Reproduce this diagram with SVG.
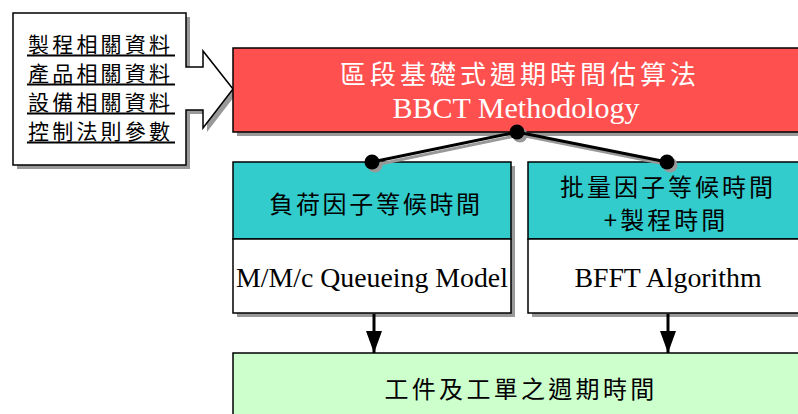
<svg xmlns="http://www.w3.org/2000/svg" width="798" height="414" viewBox="0 0 798 414">
<style>
.sh{fill:#999999;stroke:none}
.bx{stroke:#000;stroke-width:1.5}
.cjk{font-family:"Noto Sans CJK TC","Noto Sans CJK SC",sans-serif}
.rom{font-family:"Liberation Serif","Times New Roman",serif}
.conn{stroke:#000;stroke-width:3;fill:none}
.connsh{stroke:#999;stroke-width:3;fill:none}
</style>
<defs>
<marker id="ah" markerWidth="22" markerHeight="16" refX="22" refY="8" orient="auto" markerUnits="userSpaceOnUse" viewBox="0 0 22 16">
<path d="M0,0 L22,8 L0,16 Z" fill="#000"/>
</marker>
</defs>
<rect width="798" height="414" fill="#fff"/>

<g id="inputs">
<path class="sh" d="M17,17 H190 V71 H207 V55 L237,93 L207,132 V114 H190 V169 H17 Z"/>
<path class="bx" fill="#fff" d="M13,13 H186 V67 H203 V51 L233,89 L203,128 V110 H186 V165 H13 Z"/>
<g class="cjk" font-size="21" letter-spacing="3.2" fill="#000">
<text x="28" y="52">製程相關資料</text>
<text x="28" y="81">產品相關資料</text>
<text x="28" y="110">設備相關資料</text>
<text x="28" y="139">控制法則參數</text>
</g>
<g stroke="#000" stroke-width="2">
<line x1="27" y1="55.5" x2="175" y2="55.5"/>
<line x1="27" y1="84.5" x2="175" y2="84.5"/>
<line x1="27" y1="113.5" x2="175" y2="113.5"/>
<line x1="27" y1="142.5" x2="175" y2="142.5"/>
</g>
</g>

<g id="bbct">
<rect class="sh" x="237" y="52" width="570" height="84"/>
<rect class="bx" x="233" y="48" width="570" height="84" fill="#FF5050"/>
<text class="cjk" x="520" y="84" font-size="26" letter-spacing="4" fill="#fff" text-anchor="middle">區段基礎式週期時間估算法</text>
<text class="rom" x="516" y="118" font-size="30" fill="#fff" text-anchor="middle">BBCT Methodology</text>
</g>

<g id="queue">
<rect class="sh" x="237" y="166" width="278" height="151"/>
<rect class="bx" x="233" y="162" width="278" height="77" fill="#33CCCC"/>
<rect class="bx" x="233" y="239" width="278" height="74" fill="#fff"/>
<text class="cjk" x="376" y="213" font-size="24" letter-spacing="2.7" fill="#000" text-anchor="middle">負荷因子等候時間</text>
<text class="rom" x="372" y="287" font-size="27.8" fill="#000" text-anchor="middle">M/M/c Queueing Model</text>
</g>

<g id="bfft">
<rect class="sh" x="532" y="166" width="290" height="151"/>
<rect class="bx" x="528" y="162" width="290" height="77" fill="#33CCCC"/>
<rect class="bx" x="528" y="239" width="290" height="74" fill="#fff"/>
<text class="cjk" x="668" y="196" font-size="24" letter-spacing="3" fill="#000" text-anchor="middle">批量因子等候時間</text>
<text class="cjk" x="666" y="229" font-size="24" letter-spacing="3" fill="#000" text-anchor="middle">+製程時間</text>
<text class="rom" x="668" y="287" font-size="27.8" fill="#000" text-anchor="middle">BFFT Algorithm</text>
</g>

<g id="cycletime">
<rect class="bx" x="233" y="353" width="590" height="80" fill="#CCFFCC"/>
<text class="cjk" x="521" y="398" font-size="24" letter-spacing="3.3" fill="#000" text-anchor="middle">工件及工單之週期時間</text>
</g>

<g id="connectors">
<polyline class="connsh" points="375,165 520,135 670,165"/>
<circle cx="520" cy="135" r="7.5" fill="#999"/>
<circle cx="375" cy="165" r="7.5" fill="#999"/>
<circle cx="670" cy="165" r="7.5" fill="#999"/>
<polyline class="conn" points="372,162 517,132 667,162"/>
<circle cx="517" cy="132" r="7.5" fill="#000"/>
<circle cx="372" cy="162" r="7.5" fill="#000"/>
<circle cx="667" cy="162" r="7.5" fill="#000"/>
<line class="conn" x1="374" y1="314" x2="374" y2="353" marker-end="url(#ah)"/>
<line class="conn" x1="668" y1="314" x2="668" y2="353" marker-end="url(#ah)"/>
</g>
</svg>
